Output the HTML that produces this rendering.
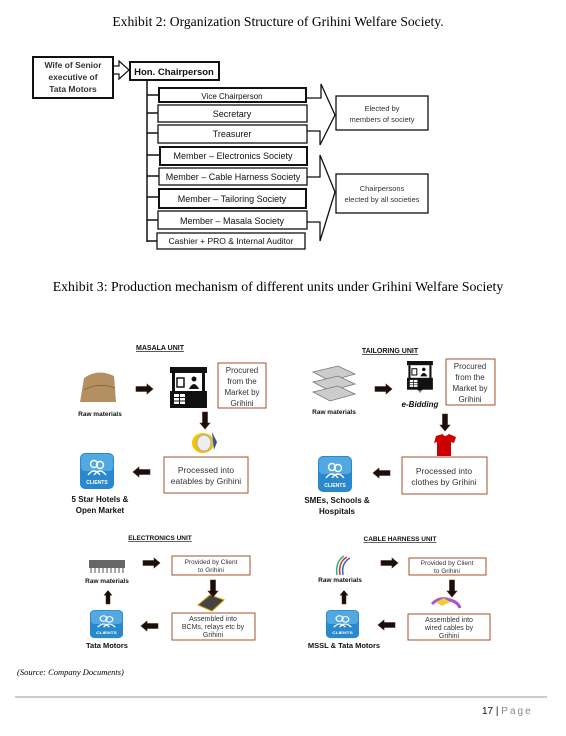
<!DOCTYPE html>
<html><head><meta charset="utf-8"><style>
html,body{margin:0;padding:0;background:#fff;}
svg{display:block;}
.s{font-family:"Liberation Serif",serif;}
.a{font-family:"Liberation Sans",sans-serif;}
</style></head><body>
<svg width="566" height="736" viewBox="0 0 566 736" xmlns="http://www.w3.org/2000/svg">
<defs>
<g id="rarrow"><path d="M0,-2.5 H11 V-5 L17,0 L11,5 V2.5 H0 Z" fill="#111" stroke="#5a1a00" stroke-width="0.6"/></g>
<g id="client">
<rect x="0" y="0" width="34" height="36" rx="5" fill="#2a88cc"/>
<rect x="1" y="1" width="32" height="17" rx="4" fill="#52a8e0"/>
<circle cx="14" cy="11" r="3.5" fill="none" stroke="#fff" stroke-width="1.4"/>
<circle cx="20" cy="12" r="3.5" fill="none" stroke="#fff" stroke-width="1.4"/>
<path d="M8,22 q6,-8 12,0 M14,22 q6,-8 12,0" fill="none" stroke="#fff" stroke-width="1.4"/>
<text x="17" y="31" font-size="5" fill="#fff" text-anchor="middle" class="a" font-weight="bold">CLIENTS</text>
</g>
<g id="stall">
<rect x="0" y="0" width="37" height="6" fill="#111"/>
<rect x="2" y="6" width="3" height="20" fill="#111"/>
<rect x="32" y="6" width="3" height="20" fill="#111"/>
<rect x="7" y="11" width="7" height="9" fill="none" stroke="#111" stroke-width="1.5"/>
<circle cx="24" cy="12" r="2.5" fill="#111"/>
<path d="M19,22 q5,-10 10,0" fill="#111"/>
<rect x="0" y="24" width="37" height="17" fill="#111"/>
<rect x="4" y="27" width="11" height="10" fill="#fff"/>
<path d="M4,30.5 H15 M4,34 H15 M9.5,27 V37" stroke="#111"/>
</g>
</defs>

<text x="278" y="26" font-size="13.6" text-anchor="middle" class="s">Exhibit 2: Organization Structure of Grihini Welfare Society.</text>

<g class="a" fill="none" stroke="#111">
<rect x="33" y="57" width="80" height="41" stroke-width="2"/>
<rect x="130" y="62" width="89" height="18" stroke-width="2"/>
<path d="M113,66 H119 V61 L129,70 L119,79 V74 H113" stroke-width="1.2"/>
<path d="M147,80 V242 M147,95 H159 M147,113 H158 M147,133 H158 M147,155 H160 M147,176 H159 M147,197 H159 M147,220 H158 M147,241 H157" stroke-width="1.5"/>
<rect x="159" y="88" width="147" height="14" stroke-width="2"/>
<rect x="158" y="105" width="149" height="17" stroke-width="1.3"/>
<rect x="158" y="125" width="149" height="18" stroke-width="1.3"/>
<rect x="160" y="147" width="147" height="18" stroke-width="2"/>
<rect x="159" y="168" width="148" height="17" stroke-width="1.3"/>
<rect x="159" y="189" width="147" height="19" stroke-width="2"/>
<rect x="158" y="211" width="149" height="18" stroke-width="1.3"/>
<rect x="157" y="233" width="148" height="16" stroke-width="1.3"/>
<path d="M306,98 H321 V84 L335,115 L320,145 V131 H307" stroke-width="1.3"/>
<path d="M307,177 H320 V155 L335,192 L320,241 V222 H307" stroke-width="1.3"/>
<rect x="336" y="96" width="92" height="34" stroke-width="1.3"/>
<rect x="336" y="174" width="92" height="39" stroke-width="1.3"/>
</g>
<g class="a" fill="#111" text-anchor="middle">
<text x="73" y="68" font-size="8.5" font-weight="bold" fill="#333">Wife of Senior</text>
<text x="73" y="80" font-size="8.5" font-weight="bold" fill="#333">executive of</text>
<text x="73" y="92" font-size="8.5" font-weight="bold" fill="#333">Tata Motors</text>
<text x="174" y="75" font-size="9.5" font-weight="bold">Hon. Chairperson</text>
<text x="232" y="99" font-size="8">Vice Chairperson</text>
<text x="232" y="117" font-size="9">Secretary</text>
<text x="232" y="137" font-size="9">Treasurer</text>
<text x="233" y="159" font-size="9">Member – Electronics Society</text>
<text x="233" y="180" font-size="9">Member – Cable Harness Society</text>
<text x="232" y="202" font-size="9">Member – Tailoring Society</text>
<text x="232" y="224" font-size="9">Member – Masala Society</text>
<text x="231" y="244" font-size="8.5">Cashier + PRO &amp; Internal Auditor</text>
<text x="382" y="111" font-size="7.5" fill="#333">Elected by</text>
<text x="382" y="122" font-size="7.5" fill="#333">members of  society</text>
<text x="382" y="191" font-size="7.5" fill="#333">Chairpersons</text>
<text x="382" y="202" font-size="7.5" fill="#333">elected by  all societies</text>
</g>

<text x="278" y="291" font-size="13.8" text-anchor="middle" class="s">Exhibit 3: Production mechanism of different units under Grihini Welfare Society</text>

<g class="a" font-size="7" font-weight="bold" fill="#111">
<text x="160" y="350" text-anchor="middle" text-decoration="underline">MASALA UNIT</text>
<text x="390" y="353" text-anchor="middle" text-decoration="underline">TAILORING UNIT</text>
<text x="160" y="540" text-anchor="middle" text-decoration="underline" font-size="6.5">ELECTRONICS UNIT</text>
<text x="400" y="541" text-anchor="middle" text-decoration="underline" font-size="6.5">CABLE HARNESS UNIT</text>
<text x="100" y="416" text-anchor="middle" font-size="6.5">Raw materials</text>
<text x="334" y="414" text-anchor="middle" font-size="6.5">Raw materials</text>
<text x="107" y="583" text-anchor="middle" font-size="6.5">Raw materials</text>
<text x="340" y="582" text-anchor="middle" font-size="6.5">Raw materials</text>
<text x="100" y="502" text-anchor="middle" font-size="8">5 Star Hotels &amp;</text>
<text x="100" y="513" text-anchor="middle" font-size="8">Open Market</text>
<text x="337" y="503" text-anchor="middle" font-size="8">SMEs, Schools &amp;</text>
<text x="337" y="514" text-anchor="middle" font-size="8">Hospitals</text>
<text x="107" y="648" text-anchor="middle" font-size="7.5">Tata Motors</text>
<text x="344" y="648" text-anchor="middle" font-size="7.5">MSSL &amp; Tata Motors</text>
<text x="420" y="393" text-anchor="middle" font-size="9">+</text>
<text x="420" y="407" text-anchor="middle" font-size="8" font-style="italic">e-Bidding</text>
</g>

<path d="M80,402 L84,378 Q98,368 114,376 L116,402 Z" fill="#b49060"/>
<path d="M84,390 Q98,382 115,388" stroke="#8a6a40" fill="none"/>
<use href="#stall" x="170" y="367"/>
<use href="#stall" transform="translate(407,361) scale(0.7)"/>
<g fill="#ccc" stroke="#777" stroke-width="0.8">
<path d="M313,372 L338,366 L355,374 L330,381 Z"/>
<path d="M313,382 L338,376 L355,384 L330,391 Z"/>
<path d="M313,392 L338,386 L355,394 L330,401 Z"/>
</g>
<ellipse cx="203" cy="443" rx="11" ry="10" fill="#f3c400"/>
<ellipse cx="204" cy="443" rx="7" ry="8" fill="#eee" stroke="#aaa"/>
<path d="M212,432 l5,10 l-3,8 z" fill="#3050a0"/>
<path d="M436,436 L443,434 Q444,438 449,434 L456,437 L454,443 L451,442 L451,456 L437,456 L437,442 L434,443 Z" fill="#c00"/>
<g fill="#555"><rect x="89" y="560" width="36" height="8" fill="#666"/>
<path d="M91,568 v5 M95,568 v5 M99,568 v5 M103,568 v5 M107,568 v5 M111,568 v5 M115,568 v5 M119,568 v5 M123,568 v5" stroke="#555"/></g>
<path d="M198,605 L210,595 L224,600 L212,611 Z" fill="#444" stroke="#c90"/>
<path d="M337,575 Q335,562 344,556" stroke="#3a8" stroke-width="1.5" fill="none"/>
<path d="M340,575 Q338,562 347,557" stroke="#c33" stroke-width="1.5" fill="none"/>
<path d="M343,575 Q341,563 350,558" stroke="#36c" stroke-width="1.5" fill="none"/>
<path d="M432,604 Q440,596 450,600 Q458,602 460,608" stroke="#a5c" stroke-width="3" fill="none"/>
<path d="M436,602 l8,-4 l6,4 l-8,4z" fill="#ec3"/>

<use href="#client" x="80" y="453"/>
<use href="#client" x="318" y="456"/>
<use href="#client" transform="translate(90,610) scale(0.97,0.78)"/>
<use href="#client" transform="translate(326,610) scale(0.97,0.78)"/>

<use href="#rarrow" x="136" y="389"/>
<use href="#rarrow" x="375" y="389"/>
<use href="#rarrow" x="143" y="563"/>
<use href="#rarrow" x="381" y="563"/>
<use href="#rarrow" transform="translate(150,472) rotate(180)"/>
<use href="#rarrow" transform="translate(390,473) rotate(180)"/>
<use href="#rarrow" transform="translate(158,626) rotate(180)"/>
<use href="#rarrow" transform="translate(395,625) rotate(180)"/>
<use href="#rarrow" transform="translate(205,412) rotate(90)"/>
<use href="#rarrow" transform="translate(445,414) rotate(90)"/>
<use href="#rarrow" transform="translate(213,580) rotate(90)"/>
<use href="#rarrow" transform="translate(452,580) rotate(90)"/>
<use href="#rarrow" transform="translate(108,604) rotate(-90) scale(0.8)"/>
<use href="#rarrow" transform="translate(344,604) rotate(-90) scale(0.8)"/>

<g fill="none" stroke="#a0522d" stroke-width="1">
<rect x="218" y="363" width="48" height="45"/>
<rect x="164" y="457" width="84" height="36"/>
<rect x="446" y="359" width="49" height="46"/>
<rect x="402" y="457" width="85" height="37"/>
<rect x="172" y="556" width="78" height="19"/>
<rect x="172" y="613" width="83" height="27"/>
<rect x="409" y="558" width="77" height="17"/>
<rect x="408" y="614" width="82" height="26"/>
</g>
<g class="a" fill="#333" text-anchor="middle">
<text x="242" y="373" font-size="8">Procured</text>
<text x="242" y="384" font-size="8">from the</text>
<text x="242" y="395" font-size="8">Market by</text>
<text x="242" y="406" font-size="8">Grihini</text>
<text x="470" y="369" font-size="8">Procured</text>
<text x="470" y="380" font-size="8">from the</text>
<text x="470" y="391" font-size="8">Market by</text>
<text x="470" y="402" font-size="8">Grihini</text>
<text x="206" y="473" font-size="8.5">Processed into</text>
<text x="206" y="484" font-size="8.5">eatables by Grihini</text>
<text x="444" y="474" font-size="8.5">Processed into</text>
<text x="444" y="485" font-size="8.5">clothes by Grihini</text>
<text x="211" y="564" font-size="6.5">Provided by Client</text>
<text x="211" y="572" font-size="6.5">to Grihini</text>
<text x="447" y="565" font-size="6.5">Provided by Client</text>
<text x="447" y="573" font-size="6.5">to Grihini</text>
<text x="213" y="621" font-size="7">Assembled into</text>
<text x="213" y="629" font-size="7">BCMs, relays etc by</text>
<text x="213" y="637" font-size="7">Grihini</text>
<text x="449" y="622" font-size="7">Assembled into</text>
<text x="449" y="630" font-size="7">wired cables by</text>
<text x="449" y="638" font-size="7">Grihini</text>
</g>

<text x="17" y="675" font-size="8.5" font-style="italic" class="s">(Source: Company Documents)</text>
<rect x="15" y="696" width="532" height="2" fill="#ccc"/>
<text x="482" y="714" font-size="10" class="a" fill="#111">17 | <tspan fill="#888" letter-spacing="2">Page</tspan></text>
</svg>
</body></html>
